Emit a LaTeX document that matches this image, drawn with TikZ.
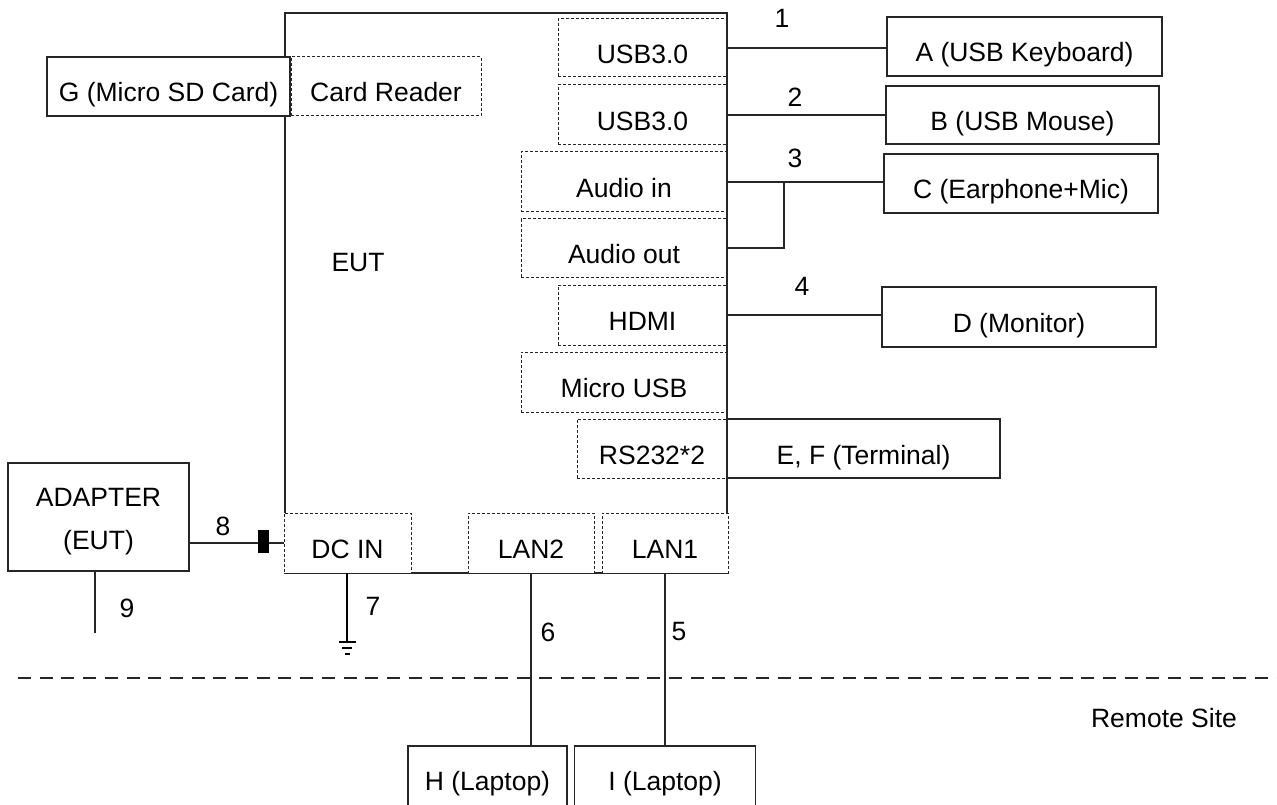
\documentclass[tikz,border=0pt]{standalone}
\usepackage{fontspec}
\setmainfont{Liberation Sans}
\begin{document}
\begin{tikzpicture}[x=1pt,y=-1pt, line width=1.4pt, draw=black!85,
  every node/.style={font=\fontsize{26.5}{43}\selectfont, inner sep=0pt, outer sep=0pt},
  dev/.style={draw=black!85, fill=white, line width=1.4pt, text height=31pt, text depth=0pt},
  port/.style={draw=black!85, fill=white, line width=1pt, dash pattern=on 3pt off 2pt, text height=31pt, text depth=0pt},
  wire/.style={draw=black!85, line width=1.4pt},
  num/.style={}]
\useasboundingbox (0,0) rectangle (1277,805);
\fill[white] (0,0) rectangle (1277,805);

% EUT enclosure
\node[draw=black!85, line width=1.4pt, minimum width=442, minimum height=560] (eut) at (506,293) {};
\node (eutlbl) at (358,263) {EUT};

% ports
\node[port, minimum width=169, minimum height=58] (usb1) at (642.5,48) {USB3.0};
\node[port, minimum width=169, minimum height=60] (usb2) at (642.5,115) {USB3.0};
\node[port, minimum width=206, minimum height=60] (ain) at (624,182) {Audio in};
\node[port, minimum width=206, minimum height=58] (aout) at (624,248) {Audio out};
\node[port, minimum width=169, minimum height=60] (hdmi) at (642.5,315) {HDMI};
\node[port, minimum width=206, minimum height=60] (musb) at (624,382) {Micro USB};
\node[port, minimum width=150, minimum height=59] (rs) at (652,448.5) {RS232*2};
\node[port, minimum width=190, minimum height=59] (cr) at (386,86.5) {Card Reader\hspace{16pt}};
\node[port, minimum width=127, minimum height=60] (dcin) at (347.5,543) {DC IN};
\node[port, minimum width=126, minimum height=60] (lan2) at (531,543) {LAN2};
\node[port, minimum width=126, minimum height=60] (lan1) at (665,543) {LAN1};

% solid right edge of EUT over the port boxes
\draw[wire] (eut.north east) -- (eut.east |- lan1.north);

% devices
\node[dev, minimum width=275, minimum height=59] (A) at (1024.5,46.5) {A (USB Keyboard)};
\node[dev, minimum width=273, minimum height=58] (B) at (1022.5,115) {B (USB Mouse)};
\node[dev, minimum width=274, minimum height=59] (C) at (1021,183.5) {C (Earphone+Mic)};
\node[dev, minimum width=274, minimum height=60] (D) at (1019,317) {D (Monitor)};
\node[dev, minimum width=273, minimum height=59] (EF) at (863.5,448.5) {E, F (Terminal)};
\node[dev, minimum width=243, minimum height=59] (G) at (168.5,86.5) {G (Micro SD Card)};
\node[draw=black!85, fill=white, line width=1.4pt, minimum width=181, minimum height=108] (adapter) at (98.5,517) {};
\node[align=center] (adapterlbl) at (98.5,522) {ADAPTER\\(EUT)};
\node[dev, minimum width=159, minimum height=84, text height=19pt, text depth=14pt] (H) at (487.5,788) {H (Laptop)};
\node[dev, minimum width=181, minimum height=84, text height=19pt, text depth=14pt] (I) at (665,788) {I (Laptop)};

% connectors
\draw[wire] (usb1.east) -- (usb1.east -| A.west);
\draw[wire] (usb2.east) -- (usb2.east -| B.west);
\draw[wire] (ain.east) -- (ain.east -| C.west);
\coordinate (j3) at (784,182);
\draw[wire] (aout.east) -| (j3);
\draw[wire] (hdmi.east) -- (hdmi.east -| D.west);
\draw[wire] (dcin.west -| adapter.east) -- (dcin.west);
\node[fill=black, minimum width=11, minimum height=23] (fer) at (263.5,541.5) {};
\coordinate (end9) at (95,633);
\draw[wire] (adapter.south -| end9) -- (end9);
\coordinate (gnd) at (347,642);
\draw[draw=black, line width=2.4pt] (dcin.south -| gnd) -- (gnd);
\draw[draw=black, line width=2pt] ([xshift=-8.5]gnd) -- ([xshift=8.5]gnd);
\draw[draw=black, line width=2pt] ([xshift=-5,yshift=-6]gnd) -- ([xshift=5,yshift=-6]gnd);
\draw[draw=black, line width=2pt] ([xshift=-2.5,yshift=-12]gnd) -- ([xshift=2.5,yshift=-12]gnd);
\draw[wire] (lan2.south) -- (lan2.south |- H.north);
\draw[wire] (lan1.south) -- (lan1.south |- I.north);

% remote site separator
\draw[draw=black!85, line width=2.2pt, dash pattern=on 13pt off 8.7pt] (18,678) -- (1277,678);
\node (remote) at (1164,718) {Remote Site};

% cable numbers
\node[num] (n1) at (782,18) {1};
\node[num] (n2) at (795,97) {2};
\node[num] (n3) at (795,158) {3};
\node[num] (n4) at (802,286) {4};
\node[num] (n5) at (679,632) {5};
\node[num] (n6) at (548,632) {6};
\node[num] (n7) at (373,606) {7};
\node[num] (n8) at (223,526) {8};
\node[num] (n9) at (127,608) {9};
\end{tikzpicture}
\end{document}
